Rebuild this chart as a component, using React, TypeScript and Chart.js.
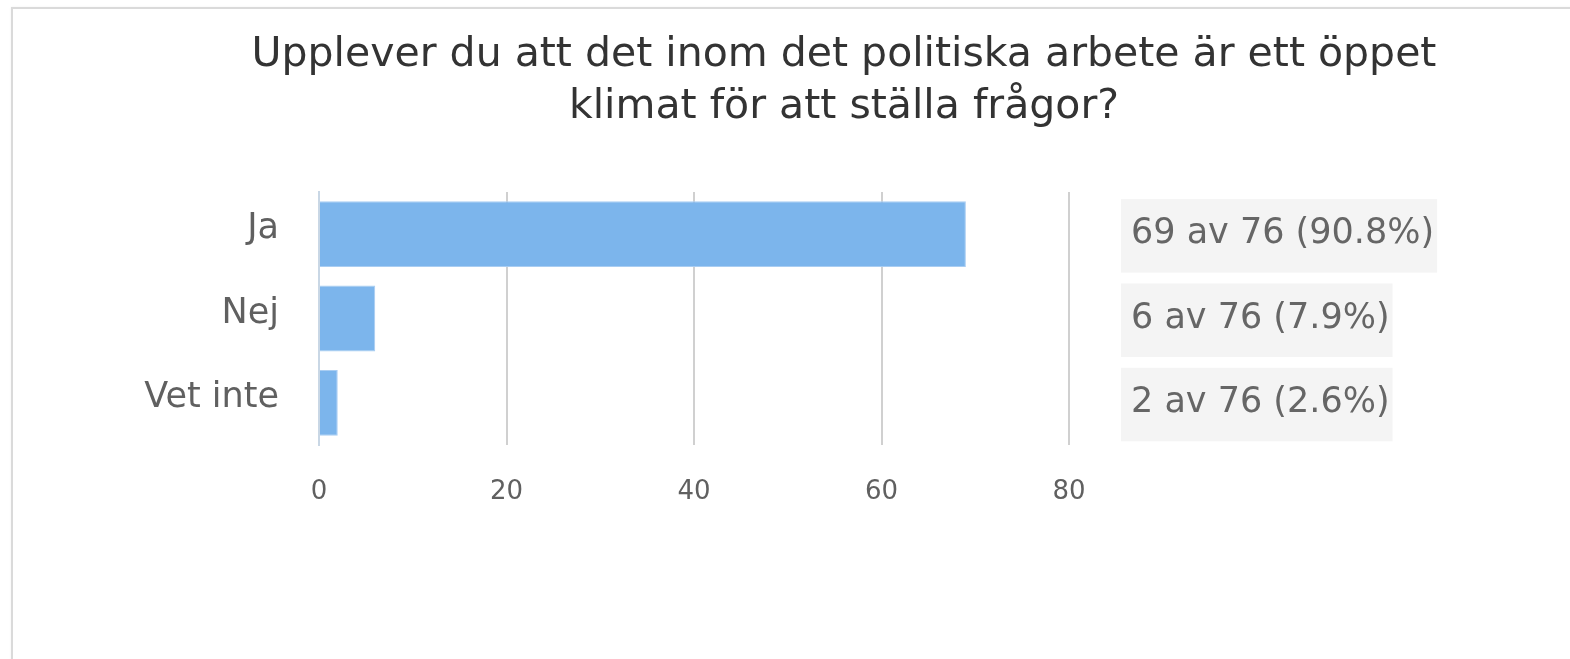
import React, { useEffect, useRef } from "react";
import { Chart, registerables } from "chart.js";

Chart.register(...registerables);

const titleLines = [
  "Upplever du att det inom det politiska arbete är ett öppet",
  "klimat för att ställa frågor?",
];
const categories = ["Ja", "Nej", "Vet inte"];
const counts = [69, 6, 2];
const total = 76;
const xTicks = [0, 20, 40, 60, 80];

const valueLabels = counts.map(
  (v) => `${v} av ${total} (${((v / total) * 100).toFixed(1)}%)`
);

const FONT = "'DejaVu Sans', 'Lucida Grande', Verdana, sans-serif";

export default function App() {
  const ref = useRef<HTMLCanvasElement | null>(null);

  useEffect(() => {
    document.body.style.margin = "0";
    const canvas = ref.current;
    if (!canvas) return;
    const chart = new Chart(canvas, {
      type: "bar",
      data: {
        labels: categories,
        datasets: [
          {
            data: counts,
            backgroundColor: "#7cb5ec",
            borderColor: "#a9cdf2",
            borderWidth: 1,
            barPercentage: 0.78,
            categoryPercentage: 1,
            yAxisID: "y",
          },
        ],
      },
      options: {
        indexAxis: "y",
        responsive: false,
        animation: false,
        devicePixelRatio: 1,
        layout: { padding: { left: 0, right: 0, top: 0, bottom: 120 } },
        plugins: {
          legend: { display: false },
          tooltip: { enabled: false },
          title: {
            display: true,
            text: titleLines,
            color: "#333333",
            font: { family: FONT, size: 41, weight: "normal", lineHeight: 1.28 },
            padding: { top: 29, bottom: 58 },
          },
        },
        scales: {
          x: {
            type: "linear",
            min: xTicks[0],
            max: xTicks[xTicks.length - 1],
            afterBuildTicks: (scale: any) => {
              scale.ticks = xTicks.map((v) => ({ value: v }));
            },
            grid: {
              color: (ctx: any) =>
                ctx.tick && ctx.tick.value === 0 ? "rgba(0,0,0,0)" : "#d0d0d0",
              lineWidth: 2,
              drawTicks: false,
            },
            border: { display: false },
            ticks: {
              color: "#606060",
              font: { family: FONT, size: 26 },
              padding: 31.4,
              maxRotation: 0,
            },
          },
          y: {
            type: "category",
            position: "left",
            offset: true,
            afterFit: (scale: any) => {
              scale.width = 319;
            },
            grid: { display: false, drawTicks: false },
            border: { display: true, color: "#c9d7e5", width: 2 },
            ticks: {
              color: "#606060",
              font: { family: FONT, size: 35 },
              padding: 40,
              labelOffset: -5,
            },
          },
          y2: {
            type: "category",
            position: "right",
            labels: valueLabels,
            offset: true,
            afterFit: (scale: any) => {
              scale.width = 619;
            },
            grid: { display: false, drawTicks: false },
            border: { display: false },
            ticks: {
              color: "#666666",
              font: { family: FONT, size: 35 },
              padding: 62,
              crossAlign: "near",
              labelOffset: 0,
              showLabelBackdrop: true,
              backdropColor: "#f4f4f4",
              backdropPadding: { left: 10, right: 3, top: 14, bottom: 17.5 },
            },
          },
        },
      } as any,
    });
    return () => chart.destroy();
  }, []);

  return (
    <div
      style={{
        position: "fixed",
        left: 0,
        top: 0,
        width: 1570,
        height: 659,
        overflow: "hidden",
        background: "#ffffff",
      }}
    >
      <div
        style={{
          position: "absolute",
          left: 11,
          top: 7,
          width: 1700,
          height: 800,
          borderTop: "2px solid #dadada",
          borderLeft: "2px solid #dadada",
          boxShadow: "0 0 2px rgba(0,0,0,0.06)",
        }}
      />
      <canvas
        ref={ref}
        width={1688}
        height={659}
        style={{ position: "absolute", left: 0, top: 0, width: 1688, height: 659 }}
      />
    </div>
  );
}
